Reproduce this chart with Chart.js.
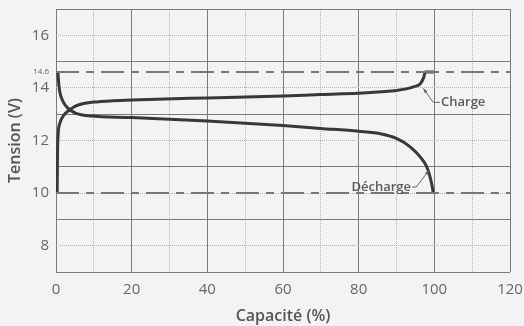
<!DOCTYPE html>
<html>
<head>
<meta charset="utf-8">
<script src="https://cdn.jsdelivr.net/npm/chart.js@4.4.1/dist/chart.umd.min.js"></script>
<style>
  html, body { margin: 0; padding: 0; background: #f2f3f5; }
  #wrap { width: 524px; height: 326px; }
</style>
</head>
<body>
<div id="wrap"><canvas id="chart" width="524" height="326"></canvas></div>
<script>
// Courbes (capacité %, tension V)
const chargeX = [0.3, 0.4, 0.6, 1.0, 2, 3.5, 5, 7, 10, 15, 20, 40, 60, 70, 80, 86, 90, 94.5, 96.3, 97.2, 97.6, 99.8];
const chargeY = [10.0, 11.5, 12.3, 12.65, 12.95, 13.15, 13.3, 13.4, 13.46, 13.51, 13.54, 13.62, 13.69, 13.75, 13.8, 13.85, 13.9, 14.04, 14.16, 14.4, 14.6, 14.6];
const dischargeX = [0.5, 0.7, 1.0, 1.8, 3, 5, 7, 9, 20, 40, 60, 70, 80, 86, 90, 93.7, 96.3, 98, 98.9, 99.5, 99.7];
const dischargeY = [14.6, 14.2, 13.85, 13.5, 13.25, 13.05, 12.97, 12.93, 12.87, 12.74, 12.57, 12.46, 12.35, 12.25, 12.08, 11.75, 11.37, 11.0, 10.6, 10.2, 10.0];

// Limites de tension (lignes pointillées)
const limitValues = [14.6, 10];

// Graduations
const xLabelTicks = [0, 20, 40, 60, 80, 100, 120];
const xMinorTicks = [10, 30, 50, 70, 90, 110];
const yLabelTicks = [8, 10, 12, 14, 14.6, 16];
const yMajorTicks = [7, 9, 11, 13, 15, 17];

// Annotations : texte, point sur la courbe, coude, début du texte
const noteLabels = ['Charge', 'Décharge'];
const noteTips = [[97.1, 13.98], [98.6, 10.87]];
const noteElbows = [[99.7, 13.45], [95.2, 10.23]];
const noteEnds = [[101.5, 13.45], [94.1, 10.23]];

const FONT = "'Open Sans', 'Noto Sans', sans-serif";
const TEXT = '#666666';
const SOLID = '#7a7a7a';
const DOTTED = '#b4b4b4';

function pts(xs, ys) {
  return xs.map((x, i) => ({ x, y: ys[i] }));
}

// les axes ne réservent pas de marge en plus de layout.padding
function noPad(s) {
  s.paddingTop = 0;
  s.paddingBottom = 0;
  s.paddingLeft = 0;
  s.paddingRight = 0;
}

const curveStyle = {
  borderColor: '#383838',
  borderWidth: 3,
  pointRadius: 0,
  fill: false,
  cubicInterpolationMode: 'monotone',
};

const limitStyle = {
  borderColor: '#777777',
  borderWidth: 2,
  borderDash: [23, 7, 8, 7],
  pointRadius: 0,
  fill: false,
  tension: 0,
};

const datasets = [
  ...limitValues.map(v => ({ ...limitStyle, data: [{ x: 0, y: v }, { x: 120, y: v }] })),
  { ...curveStyle, label: 'Charge', data: pts(chargeX, chargeY) },
  { ...curveStyle, label: 'Décharge', data: pts(dischargeX, dischargeY) },
];

// Flèches et textes des annotations
const notesPlugin = {
  id: 'notes',
  afterDatasetsDraw(chart) {
    const { ctx, scales: { x, y } } = chart;
    ctx.save();
    ctx.lineWidth = 1;
    noteLabels.forEach((label, i) => {
      const tip = [x.getPixelForValue(noteTips[i][0]), y.getPixelForValue(noteTips[i][1])];
      const elb = [x.getPixelForValue(noteElbows[i][0]), y.getPixelForValue(noteElbows[i][1])];
      const end = [x.getPixelForValue(noteEnds[i][0]), y.getPixelForValue(noteEnds[i][1])];
      ctx.strokeStyle = '#666666';
      ctx.fillStyle = '#666666';
      ctx.beginPath();
      ctx.moveTo(end[0], end[1]);
      ctx.lineTo(elb[0], elb[1]);
      ctx.lineTo(tip[0], tip[1]);
      ctx.stroke();
      // petite pointe
      const a = Math.atan2(tip[1] - elb[1], tip[0] - elb[0]);
      ctx.beginPath();
      ctx.moveTo(tip[0], tip[1]);
      ctx.lineTo(tip[0] - 5 * Math.cos(a - 0.35), tip[1] - 5 * Math.sin(a - 0.35));
      ctx.lineTo(tip[0] - 5 * Math.cos(a + 0.35), tip[1] - 5 * Math.sin(a + 0.35));
      ctx.closePath();
      ctx.fill();
      ctx.font = '600 13px ' + FONT;
      ctx.fillStyle = '#5a5a5a';
      ctx.textBaseline = 'middle';
      const left = end[0] > elb[0];
      ctx.textAlign = left ? 'left' : 'right';
      ctx.fillText(label, end[0] + (left ? 1 : -1), end[1]);
    });
    ctx.restore();
  },
};

new Chart(document.getElementById('chart'), {
  type: 'line',
  data: { datasets },
  plugins: [notesPlugin],
  options: {
    responsive: false,
    animation: false,
    layout: { padding: { top: 9, right: 14, left: 0, bottom: 0 } },
    plugins: { legend: { display: false }, tooltip: { enabled: false } },
    scales: {
      x: {
        type: 'linear',
        position: 'bottom',
        min: 0,
        max: 120,
        afterBuildTicks: s => { s.ticks = xLabelTicks.map(v => ({ value: v })); },
        afterFit: s => { s.height = 54; noPad(s); },
        grid: { color: SOLID, lineWidth: 1, drawTicks: false },
        border: { display: false },
        ticks: { color: TEXT, padding: 9, font: { family: FONT, size: 15 }, autoSkip: false, maxRotation: 0 },
        title: { display: true, text: 'Capacité (%)', color: '#555555', padding: { top: 0, bottom: 0 }, font: { family: FONT, size: 16, weight: '600' } },
      },
      x2: {
        type: 'linear',
        position: 'bottom',
        min: 0,
        max: 120,
        afterBuildTicks: s => { s.ticks = xMinorTicks.map(v => ({ value: v })); },
        afterFit: s => { s.height = 0; noPad(s); },
        grid: { color: DOTTED, lineWidth: 1, drawTicks: false },
        border: { display: false, dash: [1, 1] },
        ticks: { display: false },
      },
      y: {
        type: 'linear',
        position: 'left',
        min: 7,
        max: 17,
        afterBuildTicks: s => { s.ticks = yLabelTicks.map(v => ({ value: v })); },
        afterFit: s => { s.width = 56; noPad(s); },
        grid: {
          color: c => (c.tick && c.tick.value === 14.6 ? 'rgba(0,0,0,0)' : DOTTED),
          lineWidth: 1,
          drawTicks: false,
        },
        border: { display: false, dash: [1, 1] },
        ticks: {
          color: TEXT,
          padding: 7,
          autoSkip: false,
          callback: v => String(v),
          font: c => (c.tick && c.tick.value === 14.6 ? { family: FONT, size: 8 } : { family: FONT, size: 15 }),
        },
        title: { display: true, text: 'Tension (V)', color: '#555555', padding: { top: 6, bottom: 0 }, font: { family: FONT, size: 16, weight: '600' } },
      },
      y2: {
        type: 'linear',
        position: 'left',
        min: 7,
        max: 17,
        afterBuildTicks: s => { s.ticks = yMajorTicks.map(v => ({ value: v })); },
        afterFit: s => { s.width = 0; noPad(s); },
        grid: { color: SOLID, lineWidth: 1, drawTicks: false },
        border: { display: false },
        ticks: { display: false },
      },
    },
  },
});
</script>
</body>
</html>
